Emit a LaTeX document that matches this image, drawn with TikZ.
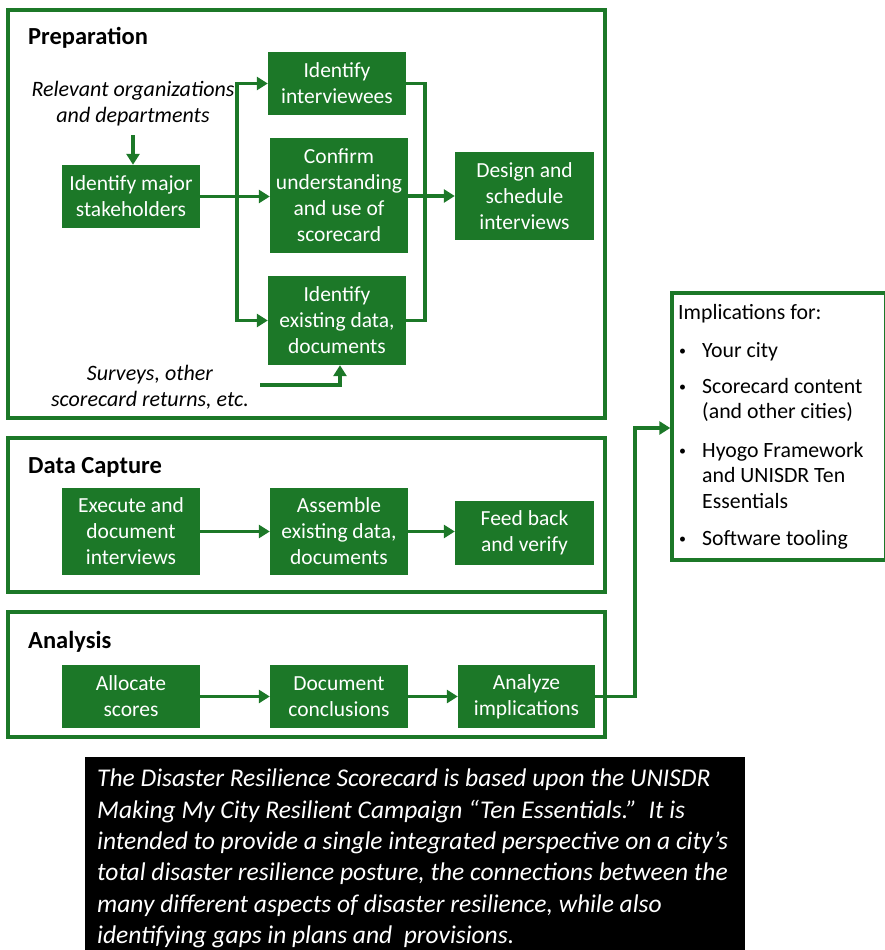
\documentclass[tikz,border=0pt]{standalone}
\usepackage{fontspec}
\setmainfont{Carlito}
\usetikzlibrary{arrows.meta}
\definecolor{leaf}{RGB}{28,120,40}
\tikzset{
  gbox/.style={fill=leaf, text=white, align=center, inner sep=0pt,
    font=\fontsize{21.5}{26}\selectfont},
  frame/.style={draw=leaf, line width=3.4pt, inner sep=0pt},
  title/.style={anchor=base west, inner sep=0pt, font=\fontsize{24.5}{28}\selectfont\bfseries},
  note/.style={align=center, inner sep=0pt, font=\fontsize{22}{26}\selectfont\itshape},
  link/.style={draw=leaf, line width=3.7pt},
  arr/.style={link, -{Triangle[length=11pt,width=13pt]}},
  item/.style={anchor=base west, inner sep=0pt, font=\fontsize{21.8}{25}\selectfont},
  dot/.style={anchor=base west, inner sep=0pt, font=\fontsize{14}{14}\selectfont, yshift=1.5pt},
}
\begin{document}
\begin{tikzpicture}[x=1pt,y=-1pt]
\useasboundingbox (0,0) rectangle (885,950);

% stage frames
\node[frame, minimum width=597pt, minimum height=408pt] (prep) at (306.5,214) {};
\node[frame, minimum width=597pt, minimum height=154pt] (cap) at (306.5,515) {};
\node[frame, minimum width=597pt, minimum height=125pt] (ana) at (306.5,674.5) {};
\node[title] (tprep) at (28,45) {Preparation};
\node[title] (tcap) at (28,473) {Data Capture};
\node[title] (tana) at (28,648) {Analysis};

% preparation
\node[note] (rel) at (133,104) {Relevant organizations\\and departments};
\node[gbox, minimum width=138pt, minimum height=63pt] (stake) at (131,196.5) {Identify major\\stakeholders};
\node[gbox, minimum width=138pt, minimum height=63pt] (interv) at (337,83.5) {Identify\\interviewees};
\node[gbox, minimum width=138pt, minimum height=115pt] (confirm) at (339,195.5) {Confirm\\understanding\\and use of\\scorecard};
\node[gbox, minimum width=138pt, minimum height=89pt] (exist) at (337,320.5) {Identify\\existing data,\\documents};
\node[gbox, minimum width=139pt, minimum height=88pt] (design) at (524.5,196) {Design and\\schedule\\interviews};
\node[note] (surv) at (150,387) {Surveys, other\\scorecard returns, etc.};

\coordinate (relend) at (133,135);
\coordinate (br) at (237,196.5);
\coordinate (rj) at (425,196);
\coordinate (sv) at (260,385);
\draw[arr] (relend) -- (relend |- stake.north);
\draw[arr] (stake.east) -- (stake.east -| confirm.west);
\draw[arr] (br) |- (interv.west);
\draw[arr] (br) |- (exist.west);
\draw[link] (interv.east) -| (rj) |- (exist.east);
\draw[arr] (confirm.east |- design.west) -- (design.west);
\draw[arr] (sv) -| ([xshift=3pt]exist.south);

% data capture
\node[gbox, minimum width=138pt, minimum height=87pt] (exec) at (131,531.5) {Execute and\\document\\interviews};
\node[gbox, minimum width=138pt, minimum height=87pt] (assem) at (339,531.5) {Assemble\\existing data,\\documents};
\node[gbox, minimum width=139pt, minimum height=64pt] (feed) at (524.5,533) {Feed back\\and verify};
\draw[arr] (exec.east) -- (exec.east -| assem.west);
\draw[arr] (assem.east) -- (assem.east -| feed.west);

% analysis
\node[gbox, minimum width=138pt, minimum height=63pt] (alloc) at (131,696.5) {Allocate\\scores};
\node[gbox, minimum width=138pt, minimum height=63pt] (concl) at (339,696.5) {Document\\conclusions};
\node[gbox, minimum width=137pt, minimum height=63pt] (analyze) at (526.5,696.5) {Analyze\\implications};
\draw[arr] (alloc.east) -- (concl.west);
\draw[arr] (concl.east) -- (analyze.west);

% implications
\node[frame, minimum width=214pt, minimum height=267pt] (impl) at (779,426.5) {};
\coordinate (aj) at (635,428);
\draw[arr] (analyze.east) -| (aj) -- (aj -| impl.west);
\node[item] (ih) at (678,319) {Implications for:};
\node[dot] (b1) at (679,357) {•};
\node[item] (i1) at (702,357) {Your city};
\node[dot] (b2) at (679,393) {•};
\node[item] (i2a) at (702,393) {Scorecard content};
\node[item] (i2b) at (702,418) {(and other cities)};
\node[dot] (b3) at (679,457) {•};
\node[item] (i3a) at (702,457) {Hyogo Framework};
\node[item] (i3b) at (702,482) {and UNISDR Ten};
\node[item] (i3c) at (702,508) {Essentials};
\node[dot] (b4) at (679,545) {•};
\node[item] (i4) at (702,545) {Software tooling};

% summary panel
\node[fill=black, minimum width=660pt, minimum height=196pt, inner sep=0pt] (panel) at (415,855) {};
\node[anchor=north west, align=left, inner sep=0pt, text=white,
  font=\fontsize{25.5}{31.3}\selectfont\itshape] (summary) at (97,769) {%
The Disaster Resilience Scorecard is based upon the UNISDR\\
Making My City Resilient Campaign “Ten Essentials.”\ \ It is\\
intended to provide a single integrated perspective on a city’s\\
total disaster resilience posture, the connections between the\\
many different aspects of disaster resilience, while also\\
identifying gaps in plans and\ \ provisions.};
\end{tikzpicture}
\end{document}
